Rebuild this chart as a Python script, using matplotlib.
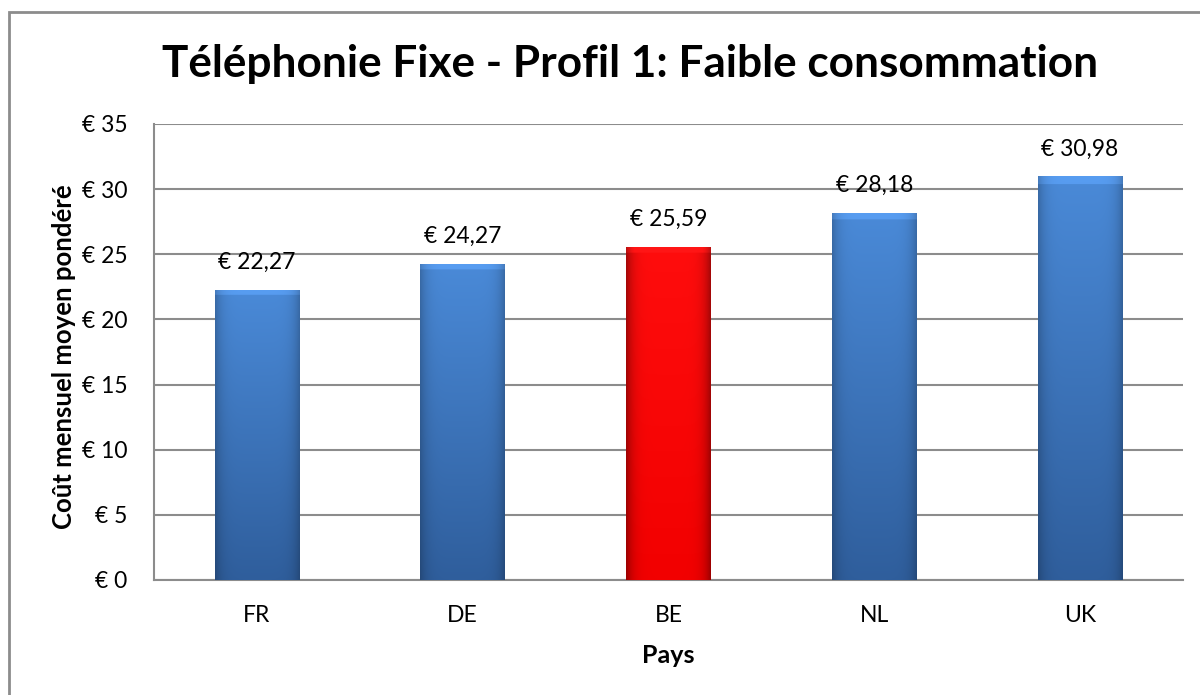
#!/usr/bin/env python3
''' Telephonie fixe - profil 1 bar chart
'''

import numpy as np
import matplotlib
matplotlib.use('Agg')
from matplotlib import pyplot
from matplotlib.patches import Rectangle

#
# data
#

pays = ['FR', 'DE', 'BE', 'NL', 'UK']
cout = [22.27, 24.27, 25.59, 28.18, 30.98]
highlight = 'BE'
yticks = [0, 5, 10, 15, 20, 25, 30, 35]

#
# functions
#

def shade(top, bottom, edge=0.22):
    ''' gradient image for one bar, top->bottom and darker at the sides '''
    top = np.array(matplotlib.colors.to_rgb(top))
    bottom = np.array(matplotlib.colors.to_rgb(bottom))
    v = np.linspace(0, 1, 400)[:, None, None]
    h = np.abs(np.linspace(-1, 1, 80))[None, :, None]
    img = top * (1 - v) + bottom * v
    img = img * (1 - edge * h**6)
    # light bevel on top
    bev = np.linspace(0, 1, 400)[:, None, None] < 0.018
    img = np.where(bev, np.clip(img * 1.08 + 0.03, 0, 1), img)
    return np.clip(img, 0, 1)

#
# main
#

pyplot.rcParams['font.family'] = ['Lato', 'DejaVu Sans']

fig = pyplot.figure(figsize=(12, 6.95), dpi=100)
ax = fig.add_axes([0.1283, 0.1655, 0.8575, 0.6561])

# outer chart border (only left/top visible in the crop)
fig.patches.append(Rectangle((9 / 1200, -0.1), 1.2, 1 - 12 / 695 + 0.1,
    transform=fig.transFigure, fill=False, edgecolor='#8c8c8c', lw=2))

x = np.arange(len(pays))
bars = ax.bar(x, cout, width=0.41, color='none', zorder=3)

for b, p in zip(bars, pays):
    if p == highlight:
        img = shade('#ff0d0d', '#f20000', edge=0.35)
    else:
        img = shade('#4a8ad8', '#2f5e9c')
    x0, y0 = b.get_x(), b.get_y()
    im = ax.imshow(img, extent=[x0, x0 + b.get_width(), y0, y0 + b.get_height()],
        aspect='auto', zorder=3, interpolation='bilinear')
    im.set_clip_path(b)

# value labels
for xi, v in zip(x, cout):
    ax.text(xi, v + 1.3, '€ {:.2f}'.format(v).replace('.', ','),
        ha='center', va='bottom', fontsize=16.5)

ax.set_xlim(-0.5, len(pays) - 0.5)
ax.set_ylim(0, 35)
ax.set_yticks(yticks)
ax.set_yticklabels(['€ {}'.format(t) for t in yticks], fontsize=16.5)
ax.set_xticks(x)
ax.set_xticklabels(pays, fontsize=16.5)
ax.tick_params(axis='both', length=0)
ax.tick_params(axis='y', pad=19)
ax.tick_params(axis='x', pad=18)

ax.yaxis.grid(True, color='#8c8c8c', lw=1.5, zorder=0)
ax.set_axisbelow(True)
for s in ['top', 'right']:
    ax.spines[s].set_visible(False)
for s in ['left', 'bottom']:
    ax.spines[s].set_color('#8c8c8c')
    ax.spines[s].set_linewidth(1.5)

ax.set_xlabel('Pays', fontsize=18, fontweight='bold', labelpad=13)
ax.set_ylabel('Coût mensuel moyen pondéré', fontsize=18.5, fontweight='bold', labelpad=11)
ax.yaxis.set_label_coords(-0.076, 0.49)

fig.text(630 / 1200, 1 - 64 / 695, 'Téléphonie Fixe - Profil 1: Faible consommation',
    ha='center', va='center', fontsize=31.8, fontweight='bold')

fig.savefig('out.png', dpi=100)
